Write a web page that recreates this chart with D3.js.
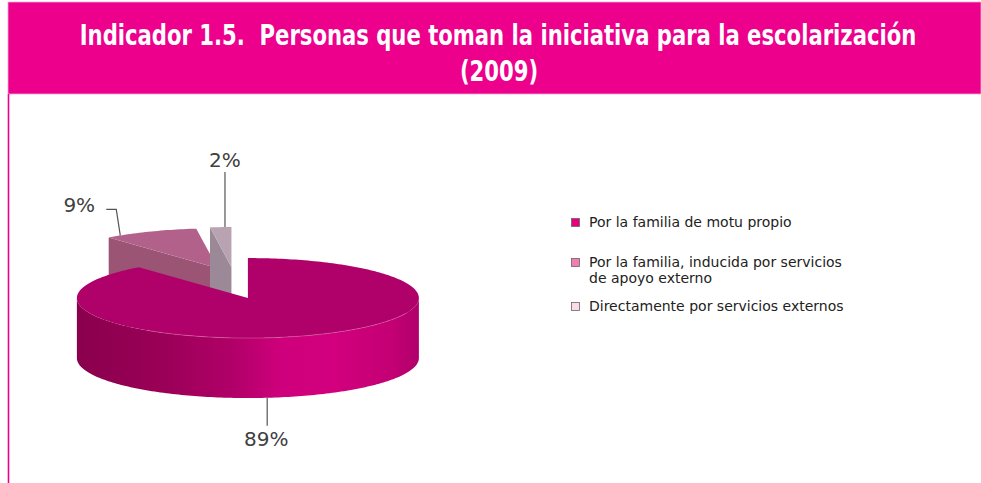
<!DOCTYPE html>
<head>
  <meta charset="utf-8">
  <script src="https://d3js.org/d3.v7.min.js"></script>
  <style>
    body { margin:0; background:#fff; }
    svg { display:block; }
  </style>
</head>
<body>
<script>
  var width = 981, height = 483;

  // data
  var categories = ["Por la familia de motu propio",
                    "Por la familia, inducida por servicios de apoyo externo",
                    "Directamente por servicios externos"];
  var values = [89, 9, 2];
  var legendLines = [["Por la familia de motu propio"],
                     ["Por la familia, inducida por servicios", "de apoyo externo"],
                     ["Directamente por servicios externos"]];
  var titleLines = ["Indicador 1.5.  Personas que toman la iniciativa para la escolarización", "(2009)"];

  // colours
  var legendColors = ["#e4007f", "#ee7fb0", "#fcdbe9"];
  var topColors = ["#b0006a", "#b2628a", "#b9a3b3"];
  var cutColors = ["#8e0052", "#9b5474", "#9b8997"];

  // 3d pie geometry
  var pie3d = {cx: 234, cy: 283, rx: 171, ry: 40, depth: 60, ex: 41, ey: 16};

  var svg = d3.select("body").append("svg")
    .attr("width", width).attr("height", height);

  // header band + left border
  svg.append("rect").attr("x", 8).attr("y", 2).attr("width", width - 8).attr("height", 92)
    .attr("fill", "#ec008c").attr("stroke", "#f7a8d3").attr("stroke-width", 0.8);
  svg.append("line").attr("x1", 8.5).attr("x2", 8.5).attr("y1", 94).attr("y2", height)
    .attr("stroke", "#ec008c").attr("stroke-width", 1.6);

  // title: condensed by a horizontal scale so line 1 spans ~837px
  var titleFont = "'Liberation Sans Narrow', 'DejaVu Sans Condensed', sans-serif";
  var tg = svg.append("g");
  var t1 = tg.append("text").attr("x", 0).attr("y", 0)
    .attr("text-anchor", "middle").attr("fill", "#fff")
    .style("font-family", titleFont).style("white-space", "pre")
    .style("font-weight", "bold").style("font-size", "29px")
    .text(titleLines[0]);
  var ratio = 837 / t1.node().getComputedTextLength();
  tg.remove();
  titleLines.forEach(function(t, i) {
    svg.append("g").attr("transform", "translate(" + (498 + i) + "," + (45 + i * 36) + ") scale(" + ratio + ",1)")
      .append("text").attr("text-anchor", "middle").attr("fill", "#fff")
      .style("font-family", titleFont).style("white-space", "pre")
      .style("font-weight", "bold").style("font-size", "29px")
      .text(t);
  });

  // gradient for the front wall of the big slice
  var defs = svg.append("defs");
  var grad = defs.append("linearGradient").attr("id", "wall0")
    .attr("gradientUnits", "userSpaceOnUse")
    .attr("x1", 77).attr("x2", 419).attr("y1", 0).attr("y2", 0);
  [[0, "#8a004d"], [0.25, "#9a0057"], [0.45, "#b00068"], [0.6, "#cf007c"],
   [0.75, "#d2007e"], [0.92, "#c40074"], [1, "#b0006a"]].forEach(function(s) {
    grad.append("stop").attr("offset", s[0]).attr("stop-color", s[1]);
  });

  var arcs = d3.pie().sort(null).startAngle(0).endAngle(2 * Math.PI)(values);

  arcs.forEach(function(a) {
    var mid = (a.startAngle + a.endAngle) / 2;
    a.ox = pie3d.cx + pie3d.ex * Math.sin(mid);
    a.oy = pie3d.cy - pie3d.ey * Math.cos(mid);
  });

  function pt(a, ang, r, dz) {
    return [a.ox + r * pie3d.rx * Math.sin(ang), a.oy - r * pie3d.ry * Math.cos(ang) + (dz || 0)];
  }
  function arcPts(a, a0, a1, dz) {
    var n = Math.max(2, Math.ceil(Math.abs(a1 - a0) / 0.02));
    return d3.range(n + 1).map(function(i) { return pt(a, a0 + (a1 - a0) * i / n, 1, dz); });
  }
  var line = d3.line();

  // draw back slices first, big slice last
  var order = [1, 2, 0];
  var g = svg.append("g");
  order.forEach(function(i) {
    var a = arcs[i];
    var s = g.append("g");
    var D = pie3d.depth;
    // cut faces facing the viewer
    [a.startAngle, a.endAngle].forEach(function(th, k) {
      var vis = k === 0 ? Math.sin(th) < -1e-6 : Math.sin(th) > 1e-6;
      if (!vis) return;
      var c = pt(a, 0, 0), r = pt(a, th, 1);
      s.append("path")
        .attr("d", line([c, r, [r[0], r[1] + D], [c[0], c[1] + D]]) + "Z")
        .attr("fill", cutColors[i]);
    });
    // outer front wall
    var w0 = Math.max(a.startAngle, Math.PI / 2), w1 = Math.min(a.endAngle, 3 * Math.PI / 2);
    if (w1 > w0) {
      var topA = arcPts(a, w0, w1, 0), botA = arcPts(a, w1, w0, D);
      s.append("path").attr("d", line(topA.concat(botA)) + "Z")
        .attr("fill", i === 0 ? "url(#wall0)" : cutColors[i]);
    }
    // top face
    var c0 = pt(a, 0, 0);
    s.append("path").attr("d", line([c0].concat(arcPts(a, a.startAngle, a.endAngle, 0))) + "Z")
      .attr("fill", topColors[i]);
    if (i === 0) {
      s.append("path").attr("d", line(arcPts(a, Math.PI * 0.62, Math.PI * 1.2, 0)))
        .attr("fill", "none").attr("stroke", "#e070aa").attr("stroke-width", 0.8).attr("opacity", 0.6);
    }
  });

  // data labels with leader lines
  var labelFont = "'DejaVu Sans', sans-serif";
  var lab = svg.append("g").attr("fill", "#404040")
    .style("font-family", labelFont).style("font-size", "20px");

  // 89%: below the front wall
  (function() {
    var a = arcs[0];
    var p = pt(a, Math.PI * 0.964, 1, pie3d.depth);
    lab.append("line").attr("x1", p[0]).attr("x2", p[0]).attr("y1", p[1]).attr("y2", p[1] + 28)
      .attr("stroke", "#555").attr("stroke-width", 1.2);
    lab.append("text").attr("x", p[0] - 1).attr("y", p[1] + 48).attr("text-anchor", "middle")
      .text(values[0] + "%");
  })();
  // 9%: elbow to the left
  (function() {
    var a = arcs[1];
    var p = pt(a, a.startAngle + (a.endAngle - a.startAngle) * 0.15, 1);
    var e = [p[0] - 4, p[1] - 26];
    lab.append("path").attr("d", line([p, e, [e[0] - 10, e[1]]]))
      .attr("fill", "none").attr("stroke", "#555").attr("stroke-width", 1.2);
    lab.append("text").attr("x", e[0] - 37).attr("y", e[1] + 3).attr("text-anchor", "middle")
      .text(values[1] + "%");
  })();
  // 2%: straight up
  (function() {
    var a = arcs[2];
    var p = pt(a, a.startAngle + (a.endAngle - a.startAngle) * 0.7, 1);
    lab.append("line").attr("x1", p[0]).attr("x2", p[0]).attr("y1", p[1]).attr("y2", p[1] - 55)
      .attr("stroke", "#555").attr("stroke-width", 1.2);
    lab.append("text").attr("x", p[0]).attr("y", p[1] - 60).attr("text-anchor", "middle")
      .text(values[2] + "%");
  })();

  // legend
  var legY = [227, 267, 311];
  var leg = svg.append("g").style("font-family", "'DejaVu Sans', Verdana, sans-serif")
    .style("font-size", "14px").attr("fill", "#222");
  categories.forEach(function(c, i) {
    leg.append("rect").attr("x", 571.5).attr("y", legY[i] - 8.5).attr("width", 8).attr("height", 8)
      .attr("fill", legendColors[i]).attr("stroke", "#666").attr("stroke-width", 0.8);
    legendLines[i].forEach(function(l, j) {
      leg.append("text").attr("x", 589).attr("y", legY[i] + j * 15.5).text(l);
    });
  });
</script>
</body>
